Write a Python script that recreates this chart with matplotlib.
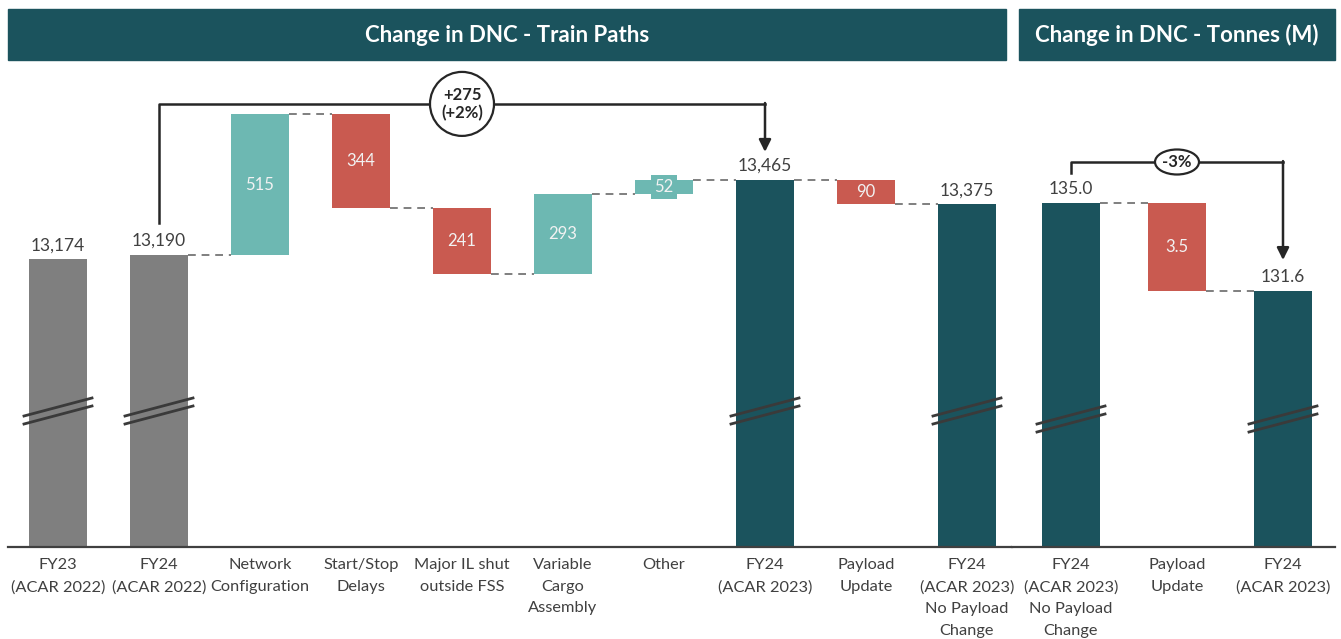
import numpy as np
import matplotlib
matplotlib.use("Agg")
import matplotlib.pyplot as plt
from matplotlib.patches import Rectangle, Ellipse
import matplotlib.transforms as mtransforms

plt.rcParams["font.family"] = ["Lato", "DejaVu Sans"]

W, H = 1341, 639
DARK = "#1B535D"
UP = "#6DB8B2"
DOWN = "#C95A50"
OLD = "#7F7F7F"
TEXT = "#404040"
LINE = "#262626"

# train paths waterfall
path_labels = [
    "FY23\n(ACAR 2022)", "FY24\n(ACAR 2022)", "Network\nConfiguration",
    "Start/Stop\nDelays", "Major IL shut\noutside FSS", "Variable\nCargo\nAssembly",
    "Other", "FY24\n(ACAR 2023)", "Payload\nUpdate",
    "FY24\n(ACAR 2023)\nNo Payload\nChange",
]
path_kind = ["old", "old", "delta", "delta", "delta", "delta", "delta", "total", "delta", "total"]
path_values = [13174, 13190, 515, -344, -241, 293, 52, 13465, -90, 13375]
path_change = "+275\n(+2%)"

# tonnes waterfall
tonne_labels = ["FY24\n(ACAR 2023)\nNo Payload\nChange", "Payload\nUpdate", "FY24\n(ACAR 2023)"]
tonne_kind = ["total", "delta", "total"]
tonne_values = [135.04, -3.47, 131.57]
tonne_change = "-3%"

AX_H = 487  # px height of plotting area


def px(ax, n):
    lo, hi = ax.get_ylim()
    return n * (hi - lo) / AX_H


def waterfall(ax, labels, kind, values, fmt, width, xpx, brk_y):
    x = np.arange(len(values))
    tr = mtransforms.blended_transform_factory(ax.transData, ax.transAxes)
    run = 0.0
    levels = []
    for i, (k, v) in enumerate(zip(kind, values)):
        if k == "delta":
            lo, hi = sorted([run, run + v])
            color = UP if v > 0 else DOWN
            ax.bar(x[i], hi - lo, bottom=lo, width=width, color=color, zorder=2)
            ax.text(x[i], (lo + hi) / 2, fmt(abs(v)), ha="center", va="center",
                    color="#F2F2F2", fontsize=12,
                    bbox=dict(boxstyle="square,pad=0.22", fc=color, ec="none"), zorder=3)
            run += v
        else:
            ax.bar(x[i], v, width=width, color=OLD if k == "old" else DARK, zorder=2)
            ax.text(x[i], v + px(ax, 6), fmt(v), ha="center", va="bottom",
                    color=TEXT, fontsize=12.5)
            # axis break marks
            hw = 34 / xpx
            for off in (-4, 4):
                yc = brk_y - off / AX_H
                ax.plot([x[i] - hw, x[i] + hw], [yc - 9 / AX_H, yc + 9 / AX_H],
                        color="#3A3A3A", lw=2, transform=tr, zorder=4, clip_on=False)
            run = v
        levels.append(run)
    # dashed connectors
    for i in range(len(values) - 1):
        if kind[i + 1] == "delta" or abs(values[i + 1] - levels[i]) < 0.01:
            ax.plot([x[i] + width / 2, x[i + 1] - width / 2], [levels[i], levels[i]],
                    color="#7F7F7F", lw=1.4, dashes=(4, 3), zorder=1)
    # category labels
    for xi, lab in zip(x, labels):
        ax.text(xi, -11 / AX_H, lab, transform=tr, ha="center", va="top",
                fontsize=11.8, color=TEXT, linespacing=1.7)
    ax.set_xticks([])
    ax.set_yticks([])
    for s in ("left", "right", "top"):
        ax.spines[s].set_visible(False)
    ax.spines["bottom"].set_color("#404040")
    ax.spines["bottom"].set_linewidth(1.6)


def bracket(ax, x0, v0, x1, v1, gap0, lvl_px, gap1, text, ew, eh, xpx, fs):
    y0 = v0 + px(ax, gap0)
    lvl = v0 + px(ax, lvl_px)
    tip = v1 + px(ax, gap1)
    ax.plot([x0, x0, x1], [y0, lvl, lvl], color=LINE, lw=1.8, clip_on=False, zorder=5)
    ax.annotate("", xy=(x1, tip), xytext=(x1, lvl + px(ax, 0.9)),
                arrowprops=dict(arrowstyle="-|>", color=LINE, lw=1.8, mutation_scale=18,
                                shrinkA=0, shrinkB=0), zorder=5)
    xm = (x0 + x1) / 2
    ax.add_patch(Ellipse((xm, lvl), ew / xpx, px(ax, eh), fc="white", ec=LINE, lw=1.6,
                         zorder=6, clip_on=False))
    ax.text(xm, lvl, text, ha="center", va="center", fontsize=fs, fontweight="bold",
            color=LINE, zorder=7, linespacing=1.15)


fig = plt.figure(figsize=(W / 100, H / 100), dpi=100)

# header bands
for x0, x1, title in [(8, 1006, "Change in DNC - Train Paths"), (1019, 1335, "Change in DNC - Tonnes (M)")]:
    fig.patches.append(Rectangle((x0 / W, 1 - 60 / H), (x1 - x0) / W, 51 / H,
                                 transform=fig.transFigure, color=DARK))
    fig.text((x0 + x1) / 2 / W, 1 - 35 / H, title, ha="center", va="center",
             color="white", fontsize=16, fontweight="bold")

bottom = (H - 547) / H
height = AX_H / H

# left panel: px(x) = 58 + 101 x
ax1 = fig.add_axes([8 / W, bottom, (1012 - 8) / W, height])
ax1.set_xlim((8 - 58) / 101, (1012 - 58) / 101)
ax1.set_ylim(12119, 12119 + AX_H * 275 / 75)
waterfall(ax1, path_labels, path_kind, path_values, lambda v: f"{v:,.0f}", 0.565, 101,
          (547 - 411) / AX_H)
bracket(ax1, 1, path_values[1], 7, path_values[7], 32, 151, 28, path_change, 64, 64, 101, 12)

# right panel: px(x) = 1071 + 106 x
ax2 = fig.add_axes([1012 / W, bottom, (1335 - 1012) / W, height])
ax2.set_xlim((1012 - 1071) / 106, (1335 - 1071) / 106)
scale = 88 / abs(tonne_values[1])
ax2.set_ylim(tonne_values[2] - 256 / scale, tonne_values[2] - 256 / scale + AX_H / scale)
waterfall(ax2, tonne_labels, tonne_kind, tonne_values, lambda v: f"{v:.1f}", 0.54, 106,
          (547 - 419) / AX_H)
bracket(ax2, 0, tonne_values[0], 2, tonne_values[2], 30, 41, 31, tonne_change, 44, 25, 106, 12)

fig.savefig("out.png", dpi=100)
